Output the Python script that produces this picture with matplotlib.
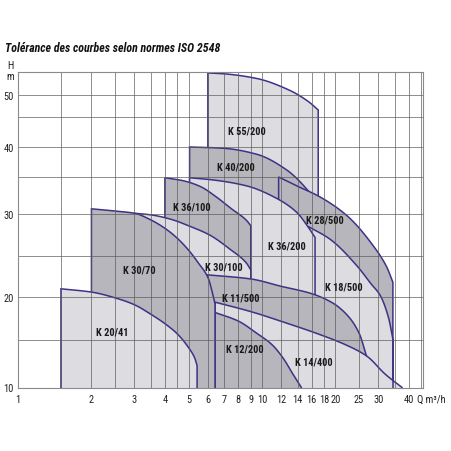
import numpy as np
import matplotlib
matplotlib.use('Agg')
import matplotlib.pyplot as plt
from matplotlib.ticker import FixedLocator, NullFormatter

plt.rcParams['font.family'] = ['Roboto Condensed', 'Liberation Sans Narrow', 'Liberation Sans', 'DejaVu Sans']

# pump operating regions: top curve (Q m3/h, H m), drawn back to front
k55_q = [6.0, 7.0, 9.5, 13.0, 15.5, 17.0]
k55_h = [54.8, 54.6, 53.6, 51.0, 48.5, 46.6]
k40_q = [5.05, 6.9, 9.5, 12.6, 15.5, 17.0]
k40_h = [40.0, 39.8, 38.8, 36.2, 33.1, 31.3]
k28_q = [11.7, 13.9, 17.3, 22.3, 28.6, 32.4, 34.4]
k28_h = [35.0, 33.8, 32.3, 29.8, 26.2, 23.7, 21.8]
k18_q = [15.5, 19.0, 24.5, 28.0, 30.5, 33.0, 34.4]
k18_h = [28.5, 27.0, 23.8, 21.6, 20.2, 17.6, 15.1]
k36b_q = [5.05, 6.3, 8.65, 11.5, 13.9, 15.5, 16.5]
k36b_h = [34.9, 34.6, 33.8, 32.1, 30.2, 28.4, 27.2]
k36a_q = [4.0, 4.75, 5.6, 6.5, 7.5, 8.6, 9.0]
k36a_h = [34.9, 34.5, 33.7, 32.3, 30.7, 29.3, 28.6]
k30b_q = [3.0, 3.5, 4.2, 5.1, 6.1, 7.4, 8.6, 9.0]
k30b_h = [30.1, 29.9, 29.4, 28.5, 27.5, 25.8, 24.2, 23.3]
k11_q = [6.0, 9.0, 12.0, 16.0, 19.5, 22.5, 25.0, 26.9]
k11_h = [22.7, 22.2, 21.3, 20.4, 19.3, 17.8, 15.8, 13.2]
k14_q = [6.42, 9.0, 12.5, 17.0, 22.0, 26.9, 32.0, 37.5]
k14_h = [19.4, 18.3, 17.0, 15.7, 14.5, 13.3, 11.4, 10.0]
k12_q = [6.42, 8.0, 9.5, 11.0, 12.2, 13.4, 14.5]
k12_h = [18.2, 17.2, 15.8, 14.5, 13.1, 11.4, 10.0]
k30a_q = [2.0, 2.5, 3.0, 3.5, 4.0, 4.5, 5.0, 5.5, 6.0, 6.3, 6.42]
k30a_h = [30.7, 30.4, 30.1, 29.3, 28.3, 27.1, 25.7, 24.1, 22.4, 20.2, 19.2]
k20_q = [1.5, 2.0, 2.5, 3.0, 3.5, 4.0, 4.5, 5.0, 5.3, 5.42]
k20_h = [21.0, 20.6, 19.9, 19.1, 18.0, 16.9, 15.7, 14.2, 13.1, 12.3]

# label, Q, H of each region name
labels = ['K 55/200', 'K 40/200', 'K 28/500', 'K 18/500', 'K 36/200', 'K 36/100',
          'K 30/100', 'K 11/500', 'K 14/400', 'K 12/200', 'K 30/70', 'K 20/41']
label_q = [8.7, 7.8, 18.1, 21.6, 12.7, 5.15, 6.95, 8.2, 16.3, 8.5, 3.13, 2.43]
label_h = [42.8, 36.75, 29.3, 21.3, 26.3, 31.0, 23.7, 20.0, 12.7, 14.15, 23.3, 16.0]

x_ticks = [1, 2, 3, 4, 5, 6, 7, 8, 9, 10, 12, 14, 16, 18, 20, 25, 30, 40]
x_minor = [1.5, 2.5, 3.5, 4.5, 35, 45]
y_ticks = [10, 20, 30, 40, 50]
y_minor = [15, 25, 35, 45]

LIGHT = '#dcdce1'
DARK = '#b6b6bc'
EDGE = '#3d3285'
FLOOR = 9

regions = [
    (k55_q, k55_h, LIGHT), (k40_q, k40_h, DARK), (k28_q, k28_h, DARK),
    (k18_q, k18_h, LIGHT), (k36b_q, k36b_h, LIGHT), (k36a_q, k36a_h, DARK),
    (k30b_q, k30b_h, LIGHT), (k11_q, k11_h, DARK), (k14_q, k14_h, LIGHT),
    (k12_q, k12_h, DARK), (k30a_q, k30a_h, DARK), (k20_q, k20_h, LIGHT),
]

# H axis of the original is neither linear nor log: piecewise scale
h_knots = [5, 10, 15, 20, 25, 30, 35, 40, 45, 50, 55, 60]
h_pos = [-47, 0, 47.5, 90.5, 131.5, 173.5, 210.5, 240.5, 270.5, 292.5, 315.5, 338]


def fwd(h):
    return np.interp(h, h_knots, h_pos)


def inv(p):
    return np.interp(p, h_pos, h_knots)


def smooth(q, h, n=12):
    # monotone cubic (pchip) through the read points, in axis space
    x = np.log10(q)
    y = fwd(np.asarray(h, float))
    dx = np.diff(x)
    d = np.diff(y) / dx
    m = np.empty_like(y)
    m[0], m[-1] = d[0], d[-1]
    for k in range(1, len(y) - 1):
        if d[k - 1] * d[k] > 0:
            w1 = 2 * dx[k] + dx[k - 1]
            w2 = dx[k] + 2 * dx[k - 1]
            m[k] = (w1 + w2) / (w1 / d[k - 1] + w2 / d[k])
        else:
            m[k] = 0.0
    xs, ys = [x[0]], [y[0]]
    for k in range(len(dx)):
        t = np.linspace(0, 1, n + 1)[1:]
        h00 = 2 * t**3 - 3 * t**2 + 1
        h10 = t**3 - 2 * t**2 + t
        h01 = -2 * t**3 + 3 * t**2
        h11 = t**3 - t**2
        xs.extend(x[k] + t * dx[k])
        ys.extend(h00 * y[k] + h10 * dx[k] * m[k] + h01 * y[k + 1] + h11 * dx[k] * m[k + 1])
    return 10 ** np.array(xs), inv(np.array(ys))


fig = plt.figure(figsize=(4.52, 4.52), dpi=100)
ax = fig.add_axes([18 / 452, 1 - 388.5 / 452, 405 / 452, 315.5 / 452])
ax.set_xscale('log')
ax.set_yscale('function', functions=(fwd, inv))
ax.set_xlim(1, 45.7)
ax.set_ylim(10, 55)

for i, (q, h, c) in enumerate(regions):
    sq, sh = smooth(q, h)
    xs = np.concatenate([[q[0]], sq, [q[-1]]])
    ys = np.concatenate([[FLOOR], sh, [FLOOR]])
    ax.fill(xs, ys, facecolor=c, edgecolor=EDGE, linewidth=1.1, zorder=1 + i * 0.01)

# right edge of K 28/500 runs down to the axis
ax.vlines(k28_q[-1], FLOOR, k18_h[-1], color=EDGE, linewidth=1.1, zorder=1.5)

for lab, q, h in zip(labels, label_q, label_h):
    ax.text(q, h, lab, ha='center', va='center', fontsize=7.5,
            fontweight='bold', color='#1a1a1a', zorder=6)

ax.xaxis.set_major_locator(FixedLocator(x_ticks))
ax.xaxis.set_minor_locator(FixedLocator(x_minor))
ax.set_xticklabels([str(t) for t in x_ticks])
ax.xaxis.set_minor_formatter(NullFormatter())
ax.yaxis.set_major_locator(FixedLocator(y_ticks))
ax.yaxis.set_minor_locator(FixedLocator(y_minor))
ax.set_yticklabels([str(t) for t in y_ticks])
ax.yaxis.set_minor_formatter(NullFormatter())
ax.tick_params(which='both', length=0, labelsize=7.5, colors='#222222')
ax.tick_params(axis='x', pad=5)
ax.tick_params(axis='y', pad=3)

ax.grid(True, which='both', color='#5a5a5a', linewidth=0.6, alpha=0.8)
ax.set_axisbelow(False)
for gl in ax.get_xgridlines() + ax.get_ygridlines():
    gl.set_zorder(3)
for s in ax.spines.values():
    s.set_color('#8a8a8a')
    s.set_linewidth(0.8)
    s.set_zorder(4)

fig.text(5 / 452, 1 - 49 / 452, 'Tolérance des courbes selon normes ISO 2548',
         fontsize=8.6, fontweight='bold', fontstyle='italic', ha='left', va='center',
         color='#111111')
fig.text(10 / 452, 1 - 66 / 452, 'H', fontsize=7.5, ha='center', va='center', color='#222222')
fig.text(10.5 / 452, 1 - 77 / 452, 'm', fontsize=7.5, ha='center', va='center', color='#222222')
fig.text(417 / 452, 1 - 400 / 452, 'Q m³/h', fontsize=7.5, ha='left', va='center',
         color='#222222')

fig.savefig('out.png', dpi=100)
